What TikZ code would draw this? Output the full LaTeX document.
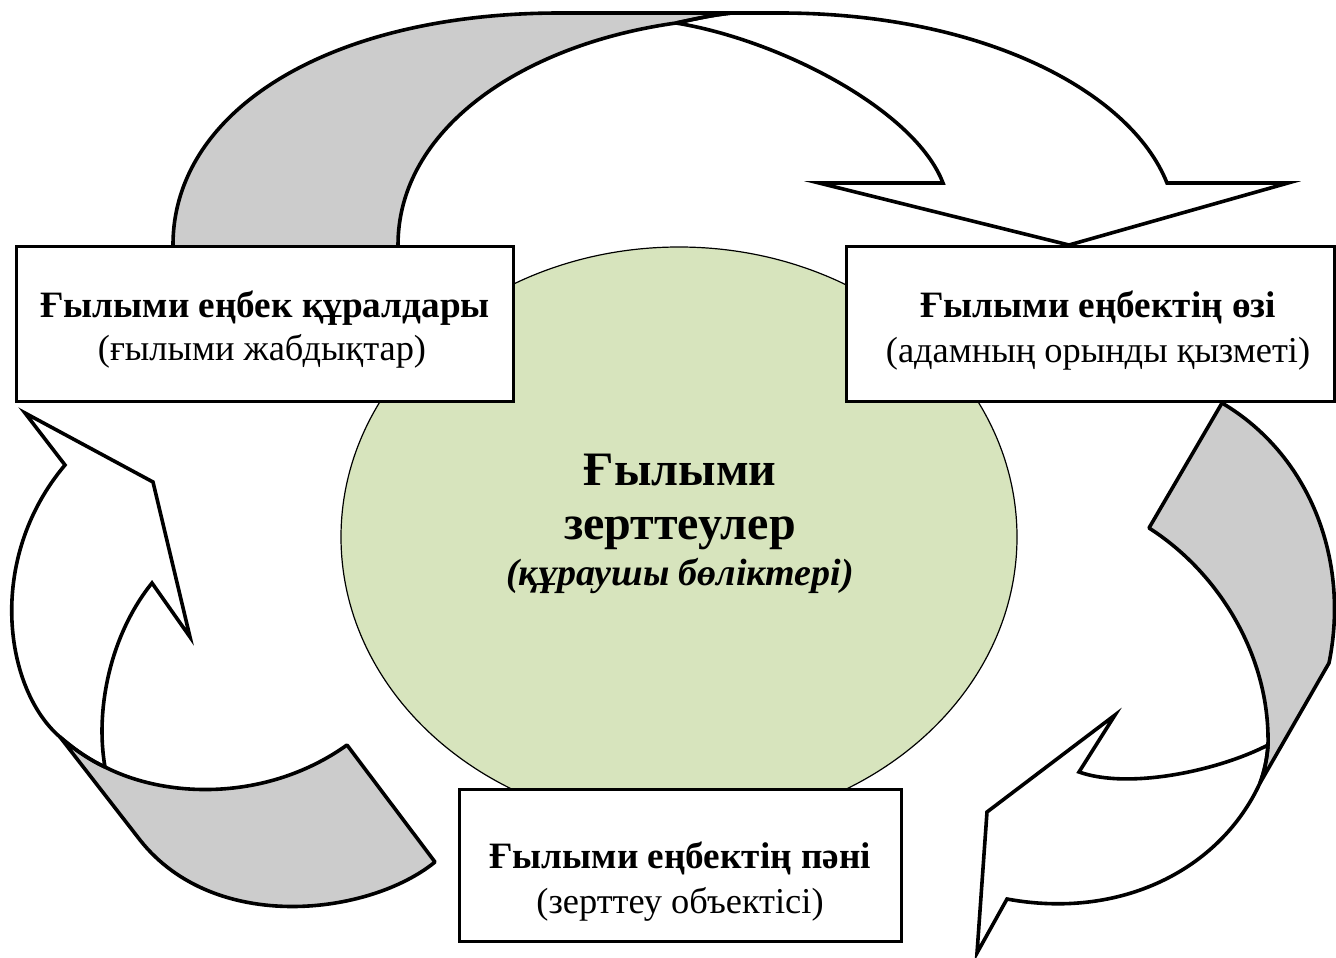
\documentclass[tikz,border=0pt]{standalone}
\usepackage{fontspec}
\setmainfont{Liberation Serif}
\usetikzlibrary{shapes.geometric}
\definecolor{bandgray}{HTML}{CCCCCC}
\definecolor{coregreen}{HTML}{D7E4BD}
\begin{document}
\begin{tikzpicture}[x=1pt,y=-1pt,
  outl/.style={line width=3.6pt, line join=miter, miter limit=20},
  bandline/.style={line width=3.6pt, line join=round},
  boxnode/.style={draw, line width=3.3pt, fill=white, inner sep=0pt, outer sep=0pt},
  bt/.style={font=\fontsize{37.2}{40}\selectfont\bfseries, anchor=base, inner sep=0pt},
  rt/.style={font=\fontsize{36.4}{40}\selectfont, anchor=base, inner sep=0pt},
  ct/.style={font=\fontsize{48}{52}\selectfont\bfseries, anchor=base, inner sep=0pt},
  itx/.style={font=\fontsize{38}{42}\selectfont\bfseries\itshape, anchor=base, inner sep=0pt}]
\useasboundingbox (0,0) rectangle (1336,958);
\fill[white] (0,0) rectangle (1336,958);
\begin{scope}
\clip (0,0) rectangle (1336,958);
% central ellipse
\node[draw, ellipse, fill=coregreen, line width=1.2pt, minimum width=676pt, minimum height=580pt, inner sep=0pt] (core) at (679,537) {};

% ---- top arrow ----
\fill[bandgray] (173,252) -- (173,245) .. controls (173,110) and (330,13) .. (560,13) -- (732,13) .. controls (712,15) and (695,19) .. (676,23) .. controls (520,45) and (398,130) .. (398,245) -- (398,252) -- cycle;
\fill[white] (676,23) .. controls (695,19) and (712,15) .. (732,13) -- (780,13) .. controls (980,13) and (1130,90) .. (1167,183) -- (1288,183) -- (1069,245) -- (819,183) -- (943,183) .. controls (915,110) and (780,40) .. (676,23) -- cycle;
\draw[bandline] (173,252) -- (173,245) .. controls (173,110) and (330,13) .. (560,13) -- (732,13) .. controls (712,15) and (695,19) .. (676,23) .. controls (520,45) and (398,130) .. (398,245) -- (398,252);
\draw[outl] (676,23) .. controls (695,19) and (712,15) .. (732,13) -- (780,13) .. controls (980,13) and (1130,90) .. (1167,183) -- (1288,183) -- (1069,245) -- (819,183) -- (943,183) .. controls (915,110) and (780,40) .. (676,23);

% ---- left arrow ----
\fill[bandgray] (60,737) -- (140,840) .. controls (215,935) and (370,915) .. (435,862) -- (347,745) .. controls (270,800) and (170,800) .. (105,767) .. controls (90,760) and (75,750) .. (60,737) -- cycle;
\fill[white] (65,465) -- (25,413) -- (153,482) -- (190,637) -- (152,583) .. controls (110,635) and (95,710) .. (105,767) .. controls (90,760) and (75,750) .. (60,737) .. controls (5,690) and (-15,560) .. (65,465) -- cycle;
\draw[bandline] (60,737) -- (140,840) .. controls (215,935) and (370,915) .. (435,862) -- (347,745) .. controls (270,800) and (170,800) .. (105,767) .. controls (90,760) and (75,750) .. (60,737) -- cycle;
\draw[outl] (105,767) .. controls (95,710) and (110,635) .. (152,583) -- (190,637) -- (153,482) -- (25,413) -- (65,465) .. controls (-15,560) and (5,690) .. (60,737) .. controls (75,750) and (90,760) .. (105,767);

% ---- right arrow ----
\fill[bandgray] (1222,403) .. controls (1310,455) and (1350,560) .. (1329,663) -- (1260,783) .. controls (1264,772) and (1267,760) .. (1268,745) .. controls (1270,655) and (1218,572) .. (1149,528) -- cycle;
\fill[white] (1007,899) -- (977,953) -- (987,812) -- (1115,715) -- (1079,772) .. controls (1130,790) and (1220,770) .. (1268,745) .. controls (1267,760) and (1264,772) .. (1260,783) .. controls (1220,870) and (1120,920) .. (1007,899) -- cycle;
\draw[bandline] (1222,403) .. controls (1310,455) and (1350,560) .. (1329,663) -- (1260,783) .. controls (1264,772) and (1267,760) .. (1268,745) .. controls (1270,655) and (1218,572) .. (1149,528) -- cycle;
\draw[outl] (1268,745) .. controls (1220,770) and (1130,790) .. (1079,772) -- (1115,715) -- (987,812) -- (977,953) -- (1007,899) .. controls (1120,920) and (1220,870) .. (1260,783) .. controls (1264,772) and (1267,760) .. (1268,745);

% ---- boxes ----
\node[boxnode, minimum width=497pt, minimum height=155pt] (lbox) at (265,324) {};
\node[boxnode, minimum width=488pt, minimum height=155pt] (rbox) at (1090.5,324) {};
\node[boxnode, minimum width=442pt, minimum height=152pt] (bbox) at (680.5,865.5) {};
\end{scope}

% ---- texts ----
\node[bt] (lt1) at (265,317) {Ғылыми еңбек құралдары};
\node[rt] (lt2) at (262,360) {(ғылыми жабдықтар)};
\node[bt] (rt1) at (1098,317) {Ғылыми еңбектің өзі};
\node[rt] (rt2) at (1098,362) {(адамның орынды қызметі)};
\node[bt] (bt1) at (680,868) {Ғылыми еңбектің пәні};
\node[rt] (bt2) at (680,913) {(зерттеу объектісі)};
\node[ct] (c1) at (680,485) {Ғылыми};
\node[ct] (c2) at (680,539) {зерттеулер};
\node[itx] (c3) at (680,585) {(құраушы бөліктері)};
\end{tikzpicture}
\end{document}
